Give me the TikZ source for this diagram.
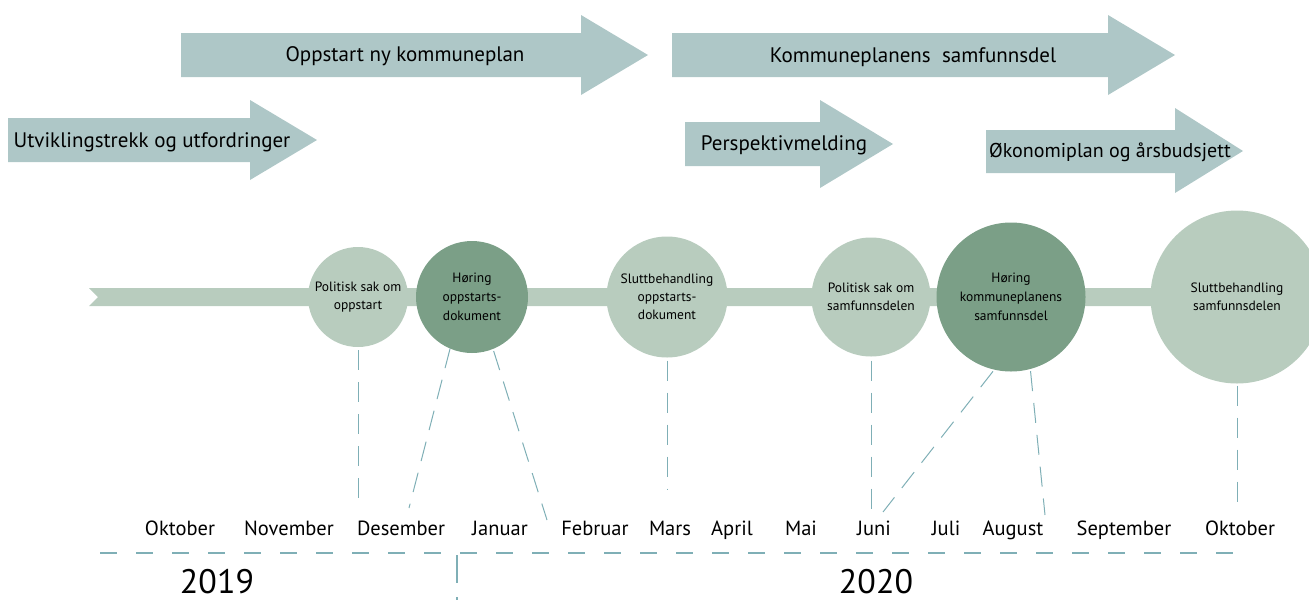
\documentclass[tikz,border=0pt]{standalone}
\usepackage{fontspec}
\setmainfont{PT Sans}
\usetikzlibrary{positioning}
\definecolor{arrowfill}{HTML}{AEC7C7}
\definecolor{lightgreen}{HTML}{B8CCBE}
\definecolor{darkgreen}{HTML}{7B9F87}
\definecolor{dashcol}{HTML}{7FAFB6}
\begin{document}
\begin{tikzpicture}[x=1pt,y=-1pt,
    bigarrow/.style={fill=arrowfill},
    arrowtext/.style={font=\fontsize{21}{24}\selectfont},
    lightcirc/.style={circle,fill=lightgreen,inner sep=0pt,align=center,font=\fontsize{13.5}{18}\selectfont},
    darkcirc/.style={circle,fill=darkgreen,inner sep=0pt,align=center,font=\fontsize{13.5}{19}\selectfont},
    dashline/.style={draw=dashcol,line width=1pt,dash pattern=on 20pt off 12pt},
    monthtext/.style={anchor=base,font=\fontsize{20.5}{22}\selectfont},
    yeartext/.style={anchor=base,inner sep=0pt,text depth=0pt,font=\fontsize{34}{38}\selectfont}]
  \useasboundingbox (0,0) rectangle (1309,600);

  % arrows on top
  \fill[bigarrow] (8,118) -- (250,118) -- (250,100) -- (317,140) -- (250,180) -- (250,162) -- (8,162) -- cycle;
  \node[arrowtext] (utvikling) at (152,142) {Utviklingstrekk og utfordringer};
  \fill[bigarrow] (181,33) -- (581,33) -- (581,15) -- (648,55) -- (581,95) -- (581,77) -- (181,77) -- cycle;
  \node[arrowtext] (oppstart) at (405,56) {Oppstart ny kommuneplan};
  \fill[bigarrow] (672,33) -- (1108,33) -- (1108,15) -- (1175,55) -- (1108,95) -- (1108,77) -- (672,77) -- cycle;
  \node[arrowtext] (samfunnsdel) at (913,57) {Kommuneplanens\ \ samfunnsdel};
  \fill[bigarrow] (685,122) -- (820,122) -- (820,100) -- (893,144) -- (820,188) -- (820,166) -- (685,166) -- cycle;
  \node[arrowtext] (perspektiv) at (784,145) {Perspektivmelding};
  \fill[bigarrow] (986,130) -- (1175,130) -- (1175,108) -- (1243,151) -- (1175,193) -- (1175,173) -- (986,173) -- cycle;
  \node[arrowtext,font=\fontsize{20}{24}\selectfont] (okonomi) at (1110,152) {Økonomiplan og årsbudsjett};

  % band with milestones
  \fill[lightgreen] (89,288) -- (1180,288) -- (1180,306) -- (89,306) -- (98,297) -- cycle;
  \node[lightcirc,minimum size=100pt] (polopp) at (358,297) {Politisk sak om\\oppstart};
  \node[darkcirc,minimum size=112pt] (horopp) at (472,297) {Høring\\oppstarts-\\dokument};
  \node[lightcirc,minimum size=121pt] (sluopp) at (667,297) {Sluttbehandling\\oppstarts-\\dokument};
  \node[lightcirc,minimum size=119pt] (polsam) at (871,297) {Politisk sak om\\samfunnsdelen};
  \node[darkcirc,minimum size=149pt] (horsam) at (1011,297) {Høring\\kommuneplanens\\samfunnsdel};
  \node[lightcirc,minimum size=173pt] (slusam) at (1237,297) {Sluttbehandling\\samfunnsdelen};

  % months
  \foreach \mx/\mname [count=\i] in {180/Oktober,289/November,401/Desember,500/Januar,595/Februar,670/Mars,732/April,801/Mai,874/Juni,946/Juli,1013/August,1124/September,1240/Oktober}
    \node[monthtext] (m\i) at (\mx,535) {\mname};

  % dashed connectors
  \coordinate (d1) at (358,508);
  \coordinate (d2) at (409,508);
  \coordinate (d3) at (547,520);
  \coordinate (d4) at (667,490);
  \coordinate (d5) at (871,515);
  \coordinate (d6) at (883,512);
  \coordinate (d7) at (1045,515);
  \coordinate (d8) at (1237,512);
  \draw[dashline,shorten <=3pt] (polopp.south) -- (d1);
  \draw[dashline] (horopp.247) -- (d2);
  \draw[dashline,shorten <=2pt] (horopp.292) -- (d3);
  \draw[dashline,shorten <=3pt] (sluopp.south) -- (d4);
  \draw[dashline,shorten <=4pt] (polsam.south) -- (d5);
  \draw[dashline,shorten <=2pt] (horsam.257) -- (d6);
  \draw[dashline,shorten <=2pt] (horsam.285) -- (d7);
  \draw[dashline,shorten <=2pt] (slusam.south) -- (d8);

  % year line
  \coordinate (yl) at (100,553);
  \coordinate (yr) at (1245,553);
  \coordinate (yt) at (457,555);
  \coordinate (yb) at (457,600);
  \draw[draw=dashcol,line width=1.2pt,dash pattern=on 17pt off 19pt] (yl) -- (yr);
  \draw[draw=dashcol,line width=1.2pt,dash pattern=on 28pt off 14pt] (yt) -- (yb);
  \node[yeartext] (y2019) at (217,593) {2019};
  \node[yeartext] (y2020) at (876,593) {2020};
\end{tikzpicture}
\end{document}
